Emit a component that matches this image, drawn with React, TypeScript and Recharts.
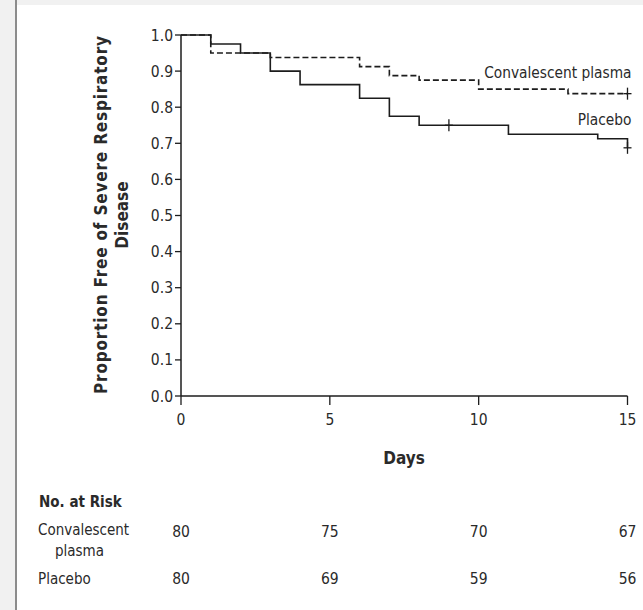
import React from "react";
import { LineChart, Line, XAxis, YAxis, Label, LabelList } from "recharts";

// Kaplan-Meier steps
const plasmaDays = [0, 1, 3, 6, 7, 8, 10, 13, 15];
const plasmaSurvival = [1.0, 0.95, 0.9375, 0.9125, 0.8875, 0.875, 0.85, 0.8375, 0.8375];
const plasmaCensored = [15];

const placeboDays = [0, 1, 2, 3, 4, 6, 7, 8, 9, 11, 14, 15];
const placeboSurvival = [1.0, 0.975, 0.95, 0.9, 0.8625, 0.825, 0.775, 0.75, 0.75, 0.725, 0.7125, 0.6875];
const placeboCensored = [9, 15];

const dayTicks = [0, 5, 10, 15];
const proportionTicks = [0, 0.1, 0.2, 0.3, 0.4, 0.5, 0.6, 0.7, 0.8, 0.9, 1.0];

const riskPlasma = [80, 75, 70, 67];
const riskPlacebo = [80, 69, 59, 56];

const FONT = "'DejaVu Sans Condensed', 'Liberation Sans Narrow', 'DejaVu Sans', sans-serif";
const INK = "#1c1c1c";
const TEXT = "#2a2a2a";

const plasmaData = plasmaDays.map((d, i) => ({
  day: d,
  value: plasmaSurvival[i],
  censored: plasmaCensored.includes(d),
}));

const placeboData = placeboDays.map((d, i) => ({
  day: d,
  value: placeboSurvival[i],
  censored: placeboCensored.includes(d),
}));

const CensorMark = (props: any) => {
  const { cx, cy, payload, index } = props;
  if (!payload || !payload.censored) return <g key={`c-${index}`} />;
  return (
    <g key={`c-${index}`} stroke={INK} strokeWidth={1.3}>
      <line x1={cx - 4} x2={cx + 4} y1={cy} y2={cy} />
      <line x1={cx} x2={cx} y1={cy - 6} y2={cy + 6} />
    </g>
  );
};

const DayTick = (props: any) => {
  const { x, y, payload } = props;
  const i = dayTicks.indexOf(payload.value);
  return (
    <g fontFamily={FONT} fontSize={15.5} fill={TEXT} textAnchor="middle">
      <text x={x} y={y + 19}>{payload.value}</text>
      <text x={x} y={y + 131}>{riskPlasma[i]}</text>
      <text x={x} y={y + 178}>{riskPlacebo[i]}</text>
    </g>
  );
};

const YTitle = () => (
  <g fontFamily={FONT} fontSize={17} fontWeight="bold" fill={TEXT} textAnchor="middle">
    <text x={107} y={215} transform="rotate(-90, 107, 215)" textLength={358} lengthAdjust="spacing">
      Proportion Free of Severe Respiratory
    </text>
    <text x={128} y={215} transform="rotate(-90, 128, 215)">
      Disease
    </text>
  </g>
);

const XTitle = () => (
  <text x={404} y={464} fontFamily={FONT} fontSize={17} fontWeight="bold" fill={TEXT} textAnchor="middle">
    Days
  </text>
);

const seriesLabel = (text: string, dx: number, dy: number, last: number) => (props: any) => {
  const { x, y, index } = props;
  if (index !== last) return null;
  return (
    <text x={x + dx} y={y + dy} fontFamily={FONT} fontSize={15.3} fill={TEXT} textAnchor="end">
      {text}
    </text>
  );
};

export default function App() {
  return (
    <div style={{ position: "absolute", left: 0, top: 0, width: 643, height: 610, background: "#fff" }}>
      <div style={{ position: "absolute", left: 0, top: 0, width: 15, height: 610, background: "#f1f1f1" }} />
      <div style={{ position: "absolute", left: 15, top: 0, width: 2, height: 610, background: "#8c8c8c" }} />
      <div style={{ position: "absolute", left: 17, top: 0, width: 626, height: 5, background: "#f1f1f1" }} />
      <div style={{ position: "absolute", left: 0, top: 0 }}>
        <LineChart width={643} height={610} margin={{ top: 35, right: 15.5, left: 121, bottom: 184 }}>
          <XAxis
            type="number"
            dataKey="day"
            domain={[0, 15]}
            ticks={dayTicks}
            interval={0}
            height={30}
            tickSize={9}
            tickMargin={1}
            stroke={INK}
            axisLine={{ stroke: INK, strokeWidth: 1.5 }}
            tickLine={{ stroke: INK, strokeWidth: 1.3 }}
            tick={<DayTick />}
            allowDuplicatedCategory={false}
          >
            <Label content={<XTitle />} />
          </XAxis>
          <YAxis
            type="number"
            domain={[0, 1]}
            ticks={proportionTicks}
            interval={0}
            width={60}
            tickSize={6}
            tickMargin={2}
            tickFormatter={(v: number) => v.toFixed(1)}
            axisLine={{ stroke: INK, strokeWidth: 1.5 }}
            tickLine={{ stroke: INK, strokeWidth: 1.3 }}
            tick={{ fill: TEXT, fontSize: 15.5, fontFamily: FONT }}
          >
            <Label content={<YTitle />} />
          </YAxis>
          <Line
            data={placeboData}
            dataKey="value"
            type="stepAfter"
            stroke={INK}
            strokeWidth={1.6}
            dot={CensorMark}
            activeDot={false}
            isAnimationActive={false}
          >
            <LabelList dataKey="value" content={seriesLabel("Placebo", 4, -23, placeboData.length - 1)} />
          </Line>
          <Line
            data={plasmaData}
            dataKey="value"
            type="stepAfter"
            stroke={INK}
            strokeWidth={1.6}
            strokeDasharray="6 3"
            dot={CensorMark}
            activeDot={false}
            isAnimationActive={false}
          >
            <LabelList dataKey="value" content={seriesLabel("Convalescent plasma", 4, -16, plasmaData.length - 1)} />
          </Line>
        </LineChart>
      </div>
      <svg width={643} height={610} style={{ position: "absolute", left: 0, top: 0, pointerEvents: "none" }}>
        <g fontFamily={FONT} fill={TEXT}>
          <text x={39} y={507} fontSize={15} fontWeight="bold">No. at Risk</text>
          <text x={38} y={535} fontSize={15}>Convalescent</text>
          <text x={55} y={556} fontSize={15}>plasma</text>
          <text x={38} y={584} fontSize={15}>Placebo</text>
        </g>
      </svg>
    </div>
  );
}
